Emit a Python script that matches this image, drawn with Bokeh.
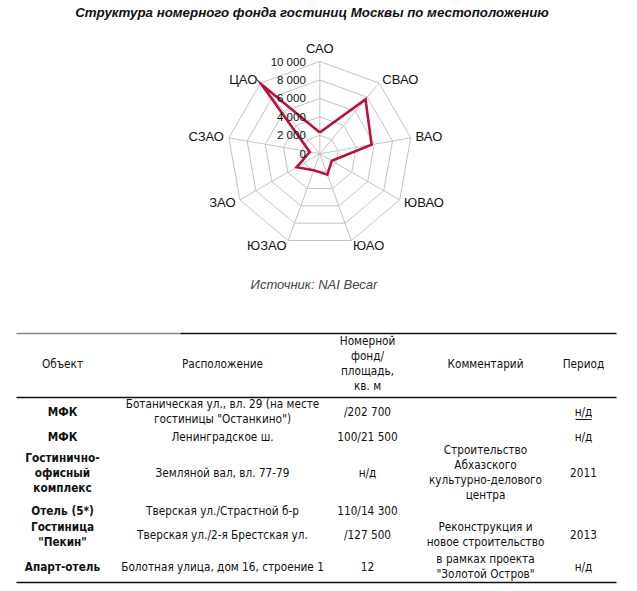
import math
from bokeh.plotting import figure
from bokeh.models import Range1d
from bokeh.layouts import column
from bokeh.core.properties import value
from bokeh.embed import file_html
from bokeh.resources import INLINE

# ---------------- data ----------------
title_text = "Структура номерного фонда гостиниц Москвы по местоположению"
source_text = "Источник: NAI Becar"
districts = ["САО", "СВАО", "ВАО", "ЮВАО", "ЮАО", "ЮЗАО", "ЗАО", "СЗАО", "ЦАО"]
rooms = [2300, 7700, 5700, 1500, 2400, 1900, 2900, 1100, 9800]
ticks = [0, 2000, 4000, 6000, 8000, 10000]
tick_labels = ["0", "2 000", "4 000", "6 000", "8 000", "10 000"]

headers = [["Объект"], ["Расположение"], ["Номерной", "фонд/", "площадь,", "кв. м"],
           ["Комментарий"], ["Период"]]
objects = [["МФК"], ["МФК"], ["Гостинично-", "офисный", "комплекс"], ["Отель (5*)"],
           ["Гостиница", "\"Пекин\""], ["Апарт-отель"]]
locations = [["Ботаническая ул., вл. 29 (на месте", "гостиницы \"Останкино\")"],
             ["Ленинградское ш."], ["Земляной вал, вл. 77-79"],
             ["Тверская ул./Страстной б-р"], ["Тверская ул./2-я Брестская ул."],
             ["Болотная улица, дом 16, строение 1"]]
capacity = [["/202 700"], ["100/21 500"], ["н/д"], ["110/14 300"], ["/127 500"], ["12"]]
comments = [[], [], ["Строительство", "Абхазского", "культурно-делового", "центра"], [],
            ["Реконструкция и", "новое строительство"],
            ["в рамках проекта", "\"Золотой Остров\""]]
periods = [["н/д"], ["н/д"], ["2011"], [], ["2013"], ["н/д"]]

# ---------------- layout constants ----------------
W = 629
H1 = 320
H2 = 265
CX, CY = 319.3, 153.3        # page px of radar centre
R_PX = 92.3                  # px for max tick
RMAX = ticks[-1]
k = RMAX / R_PX              # data units per px
FONT = value("Liberation Sans")
TFONT = value("DejaVu Sans Condensed")
GRID = "#c4c4c4"
RED = "#b8123a"

# ---------------- radar figure ----------------
p1 = figure(width=W, height=H1, output_backend="svg", toolbar_location=None,
            x_range=Range1d(-CX * k, (W - CX) * k),
            y_range=Range1d(-(H1 - CY) * k, CY * k),
            min_border=0)
p1.axis.visible = False
p1.grid.visible = False
p1.outline_line_color = None

n = len(districts)
angles = [2 * math.pi * i / n for i in range(n)]

def pg(xp, yp):
    return (xp - CX) * k, (CY - yp) * k

# rings
for t in ticks[1:]:
    xs = [t * math.sin(a) for a in angles]
    ys = [t * math.cos(a) for a in angles]
    p1.line(xs + [xs[0]], ys + [ys[0]], line_color=GRID, line_width=1)
# spokes
for a in angles:
    p1.line([0, RMAX * math.sin(a)], [0, RMAX * math.cos(a)], line_color=GRID, line_width=1)

# data polygon
dx = [v * math.sin(a) for v, a in zip(rooms, angles)]
dy = [v * math.cos(a) for v, a in zip(rooms, angles)]
p1.line(dx + [dx[0]], dy + [dy[0]], line_color=RED, line_width=2.6, line_join="miter")

# tick labels
p1.text(x=[-14 * k] * len(ticks), y=ticks, text=tick_labels, text_font=FONT,
        text_font_size="11.5px", text_align="right", text_baseline="middle", text_color="#111")

# category labels
for name, a in zip(districts, angles):
    s, c = math.sin(a), math.cos(a)
    if abs(s) < 0.2:
        pad = 13 * k
        align = "center"
    else:
        pad = 5 * k
        align = "left" if s > 0 else "right"
    p1.text(x=[(RMAX + pad) * s], y=[(RMAX + pad) * c], text=[name], text_font=FONT,
            text_font_size="13px", text_align=align, text_baseline="middle", text_color="#111")

tx, ty = pg(311.5, 12)
p1.text(x=[tx], y=[ty], text=[title_text], text_font=FONT, text_font_size="13.3px",
        text_font_style="bold italic", text_align="center", text_baseline="middle", text_color="#111")
sx, sy = pg(313.5, 284)
p1.text(x=[sx], y=[sy], text=[source_text], text_font=FONT, text_font_size="13px",
        text_font_style="italic", text_align="center", text_baseline="middle", text_color="#444")

# ---------------- table figure ----------------
p2 = figure(width=W, height=H2, output_backend="svg", toolbar_location=None,
            x_range=Range1d(0, W), y_range=Range1d(H1 + H2, H1), min_border=0)
p2.axis.visible = False
p2.grid.visible = False
p2.outline_line_color = None

col_x = [62, 222, 367, 485, 583]
row_y = [411, 436, 472, 510, 534, 566]
header_y = 363
LINE = 15

def put(lines, x, yc, bold=False, spacing=LINE):
    if not lines:
        return
    m = len(lines)
    ys = [yc + (i - (m - 1) / 2) * spacing for i in range(m)]
    p2.text(x=[x] * m, y=ys, text=lines, text_font=TFONT, text_font_size="11.7px",
            text_font_style="bold" if bold else "normal", text_align="center",
            text_baseline="middle", text_color="#111")

for h, x in zip(headers, col_x):
    put(h, x, header_y, spacing=14.7)

for i, yc in enumerate(row_y):
    put(objects[i], col_x[0], yc, bold=True)
    put(locations[i], col_x[1], yc)
    put(capacity[i], col_x[2], yc)
    put(comments[i], col_x[3], yc)
    put(periods[i], col_x[4], yc)

# underline of the first period value
p2.line([col_x[4] - 8, col_x[4] + 8], [row_y[0] + 8, row_y[0] + 8], line_color="#111", line_width=1)

# rules
p2.line([16, 180], [333, 333], line_color="#888", line_width=1.5)
p2.line([180, 616], [333, 333], line_color="#111", line_width=1.5)
p2.line([16, 616], [397, 397], line_color="#111", line_width=1.5)
p2.line([16, 616], [582, 582], line_color="#111", line_width=1.5)

layout = column(p1, p2, spacing=0)
open("out.html", "w").write(file_html(layout, INLINE))
